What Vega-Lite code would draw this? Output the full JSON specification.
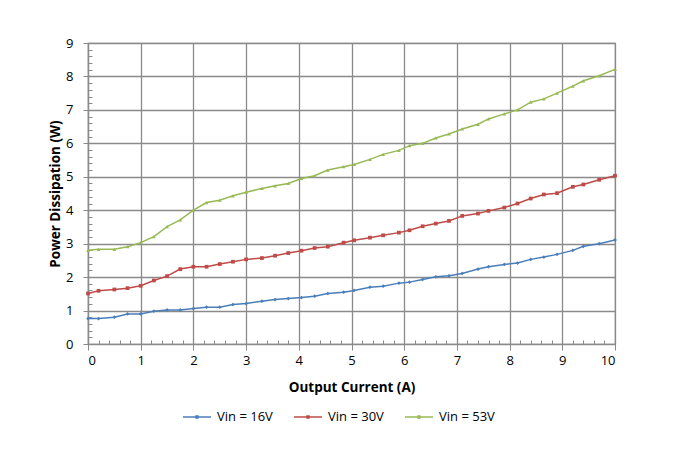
{
  "$schema": "https://vega.github.io/schema/vega-lite/v6.json",
  "width": 527,
  "height": 301,
  "autosize": {"type": "none"},
  "padding": {"left": 88, "top": 43, "right": 59, "bottom": 108},
  "background": "white",
  "config": {
    "font": "Open Sans",
    "view": {"stroke": "#8a8a8a", "strokeWidth": 1.2},
    "axis": {
      "labelFont": "Open Sans", "labelFontSize": 13, "labelColor": "#000000",
      "titleFont": "Open Sans", "titleFontSize": 13.5, "titleFontWeight": "bold", "titleColor": "#000000",
      "domainColor": "#8a8a8a", "domainWidth": 1.2,
      "tickColor": "#8a8a8a", "tickWidth": 1,
      "gridColor": "#8a8a8a", "gridWidth": 1.3
    },
    "legend": {"labelFont": "Open Sans", "labelFontSize": 13, "labelColor": "#000000"}
  },
  "data": {"values": [
    {"I":0,"P":0.76,"s":"Vin = 16V"},{"I":0.2,"P":0.76,"s":"Vin = 16V"},{"I":0.5,"P":0.8,"s":"Vin = 16V"},{"I":0.75,"P":0.9,"s":"Vin = 16V"},{"I":1.0,"P":0.9,"s":"Vin = 16V"},{"I":1.25,"P":0.98,"s":"Vin = 16V"},{"I":1.5,"P":1.02,"s":"Vin = 16V"},{"I":1.75,"P":1.02,"s":"Vin = 16V"},{"I":2.0,"P":1.06,"s":"Vin = 16V"},{"I":2.25,"P":1.1,"s":"Vin = 16V"},{"I":2.5,"P":1.1,"s":"Vin = 16V"},{"I":2.75,"P":1.18,"s":"Vin = 16V"},{"I":3.0,"P":1.21,"s":"Vin = 16V"},{"I":3.3,"P":1.28,"s":"Vin = 16V"},{"I":3.55,"P":1.33,"s":"Vin = 16V"},{"I":3.8,"P":1.36,"s":"Vin = 16V"},{"I":4.05,"P":1.39,"s":"Vin = 16V"},{"I":4.3,"P":1.43,"s":"Vin = 16V"},{"I":4.55,"P":1.51,"s":"Vin = 16V"},{"I":4.85,"P":1.55,"s":"Vin = 16V"},{"I":5.05,"P":1.6,"s":"Vin = 16V"},{"I":5.35,"P":1.7,"s":"Vin = 16V"},{"I":5.6,"P":1.73,"s":"Vin = 16V"},{"I":5.9,"P":1.82,"s":"Vin = 16V"},{"I":6.1,"P":1.85,"s":"Vin = 16V"},{"I":6.35,"P":1.93,"s":"Vin = 16V"},{"I":6.6,"P":2.01,"s":"Vin = 16V"},{"I":6.85,"P":2.04,"s":"Vin = 16V"},{"I":7.1,"P":2.11,"s":"Vin = 16V"},{"I":7.4,"P":2.24,"s":"Vin = 16V"},{"I":7.6,"P":2.31,"s":"Vin = 16V"},{"I":7.9,"P":2.38,"s":"Vin = 16V"},{"I":8.15,"P":2.42,"s":"Vin = 16V"},{"I":8.4,"P":2.53,"s":"Vin = 16V"},{"I":8.65,"P":2.6,"s":"Vin = 16V"},{"I":8.9,"P":2.68,"s":"Vin = 16V"},{"I":9.2,"P":2.8,"s":"Vin = 16V"},{"I":9.4,"P":2.92,"s":"Vin = 16V"},{"I":9.7,"P":3.0,"s":"Vin = 16V"},{"I":10.0,"P":3.11,"s":"Vin = 16V"},
    {"I":0,"P":1.51,"s":"Vin = 30V"},{"I":0.2,"P":1.59,"s":"Vin = 30V"},{"I":0.5,"P":1.63,"s":"Vin = 30V"},{"I":0.75,"P":1.67,"s":"Vin = 30V"},{"I":1.0,"P":1.74,"s":"Vin = 30V"},{"I":1.25,"P":1.9,"s":"Vin = 30V"},{"I":1.5,"P":2.03,"s":"Vin = 30V"},{"I":1.75,"P":2.24,"s":"Vin = 30V"},{"I":2.0,"P":2.31,"s":"Vin = 30V"},{"I":2.25,"P":2.31,"s":"Vin = 30V"},{"I":2.5,"P":2.39,"s":"Vin = 30V"},{"I":2.75,"P":2.46,"s":"Vin = 30V"},{"I":3.0,"P":2.53,"s":"Vin = 30V"},{"I":3.3,"P":2.57,"s":"Vin = 30V"},{"I":3.55,"P":2.64,"s":"Vin = 30V"},{"I":3.8,"P":2.72,"s":"Vin = 30V"},{"I":4.05,"P":2.79,"s":"Vin = 30V"},{"I":4.3,"P":2.87,"s":"Vin = 30V"},{"I":4.55,"P":2.91,"s":"Vin = 30V"},{"I":4.85,"P":3.03,"s":"Vin = 30V"},{"I":5.05,"P":3.1,"s":"Vin = 30V"},{"I":5.35,"P":3.18,"s":"Vin = 30V"},{"I":5.6,"P":3.25,"s":"Vin = 30V"},{"I":5.9,"P":3.33,"s":"Vin = 30V"},{"I":6.1,"P":3.4,"s":"Vin = 30V"},{"I":6.35,"P":3.52,"s":"Vin = 30V"},{"I":6.6,"P":3.6,"s":"Vin = 30V"},{"I":6.85,"P":3.68,"s":"Vin = 30V"},{"I":7.1,"P":3.83,"s":"Vin = 30V"},{"I":7.4,"P":3.9,"s":"Vin = 30V"},{"I":7.6,"P":3.98,"s":"Vin = 30V"},{"I":7.9,"P":4.08,"s":"Vin = 30V"},{"I":8.15,"P":4.2,"s":"Vin = 30V"},{"I":8.4,"P":4.35,"s":"Vin = 30V"},{"I":8.65,"P":4.47,"s":"Vin = 30V"},{"I":8.9,"P":4.51,"s":"Vin = 30V"},{"I":9.2,"P":4.7,"s":"Vin = 30V"},{"I":9.4,"P":4.77,"s":"Vin = 30V"},{"I":9.7,"P":4.91,"s":"Vin = 30V"},{"I":10.0,"P":5.03,"s":"Vin = 30V"},
    {"I":0,"P":2.8,"s":"Vin = 53V"},{"I":0.2,"P":2.83,"s":"Vin = 53V"},{"I":0.5,"P":2.83,"s":"Vin = 53V"},{"I":0.75,"P":2.91,"s":"Vin = 53V"},{"I":1.0,"P":3.03,"s":"Vin = 53V"},{"I":1.25,"P":3.21,"s":"Vin = 53V"},{"I":1.5,"P":3.51,"s":"Vin = 53V"},{"I":1.75,"P":3.71,"s":"Vin = 53V"},{"I":2.0,"P":4.0,"s":"Vin = 53V"},{"I":2.25,"P":4.23,"s":"Vin = 53V"},{"I":2.5,"P":4.3,"s":"Vin = 53V"},{"I":2.75,"P":4.43,"s":"Vin = 53V"},{"I":3.0,"P":4.54,"s":"Vin = 53V"},{"I":3.3,"P":4.65,"s":"Vin = 53V"},{"I":3.55,"P":4.73,"s":"Vin = 53V"},{"I":3.8,"P":4.8,"s":"Vin = 53V"},{"I":4.05,"P":4.95,"s":"Vin = 53V"},{"I":4.3,"P":5.03,"s":"Vin = 53V"},{"I":4.55,"P":5.2,"s":"Vin = 53V"},{"I":4.85,"P":5.3,"s":"Vin = 53V"},{"I":5.05,"P":5.37,"s":"Vin = 53V"},{"I":5.35,"P":5.52,"s":"Vin = 53V"},{"I":5.6,"P":5.67,"s":"Vin = 53V"},{"I":5.9,"P":5.79,"s":"Vin = 53V"},{"I":6.1,"P":5.93,"s":"Vin = 53V"},{"I":6.35,"P":6.0,"s":"Vin = 53V"},{"I":6.6,"P":6.16,"s":"Vin = 53V"},{"I":6.85,"P":6.28,"s":"Vin = 53V"},{"I":7.1,"P":6.43,"s":"Vin = 53V"},{"I":7.4,"P":6.57,"s":"Vin = 53V"},{"I":7.6,"P":6.73,"s":"Vin = 53V"},{"I":7.9,"P":6.88,"s":"Vin = 53V"},{"I":8.15,"P":7.0,"s":"Vin = 53V"},{"I":8.4,"P":7.23,"s":"Vin = 53V"},{"I":8.65,"P":7.33,"s":"Vin = 53V"},{"I":8.9,"P":7.5,"s":"Vin = 53V"},{"I":9.2,"P":7.71,"s":"Vin = 53V"},{"I":9.4,"P":7.87,"s":"Vin = 53V"},{"I":9.7,"P":8.02,"s":"Vin = 53V"},{"I":10.0,"P":8.21,"s":"Vin = 53V"}
  ]},
  "encoding": {
    "x": {"field": "I", "type": "quantitative", "scale": {"domain": [0, 10], "nice": false},
      "axis": {"title": "Output Current (A)", "grid": true,
        "values": [0,0.2,0.4,0.6,0.8,1,1.2,1.4,1.6,1.8,2,2.2,2.4,2.6,2.8,3,3.2,3.4,3.6,3.8,4,4.2,4.4,4.6,4.8,5,5.2,5.4,5.6,5.8,6,6.2,6.4,6.6,6.8,7,7.2,7.4,7.6,7.8,8,8.2,8.4,8.6,8.8,9,9.2,9.4,9.6,9.8,10],
        "labelExpr": "abs(datum.value - round(datum.value)) < 0.01 ? format(datum.value, 'd') : ''",
        "tickSize": {"condition": {"test": "abs(datum.value - round(datum.value)) < 0.01", "value": 6}, "value": -4},
        "gridOpacity": {"condition": {"test": "abs(datum.value - round(datum.value)) < 0.01", "value": 1}, "value": 0},
        "labelPadding": 4, "titlePadding": 13}},
    "y": {"field": "P", "type": "quantitative", "scale": {"domain": [0, 9], "nice": false},
      "axis": {"title": "Power  Dissipation (W)", "grid": true,
        "values": [0,0.2,0.4,0.6,0.8,1,1.2,1.4,1.6,1.8,2,2.2,2.4,2.6,2.8,3,3.2,3.4,3.6,3.8,4,4.2,4.4,4.6,4.8,5,5.2,5.4,5.6,5.8,6,6.2,6.4,6.6,6.8,7,7.2,7.4,7.6,7.8,8,8.2,8.4,8.6,8.8,9],
        "labelExpr": "abs(datum.value - round(datum.value)) < 0.01 ? format(datum.value, 'd') : ''",
        "tickSize": {"condition": {"test": "abs(datum.value - round(datum.value)) < 0.01", "value": 5}, "value": -4},
        "gridOpacity": {"condition": {"test": "abs(datum.value - round(datum.value)) < 0.01", "value": 1}, "value": 0},
        "labelPadding": 10, "titlePadding": 3}},
    "color": {"field": "s", "type": "nominal",
      "scale": {"domain": ["Vin = 16V", "Vin = 30V", "Vin = 53V"], "range": ["#4a7ebb", "#be4b48", "#98b954"]}}
  },
  "layer": [
    {
      "mark": {"type": "line", "strokeWidth": 1.5},
      "encoding": {
        "color": {"field": "s", "type": "nominal",
          "legend": {"title": null, "orient": "none", "legendX": 94, "legendY": 359, "direction": "horizontal", "symbolType": "M-1,0H1M-0.07,-0.07H0.07V0.07H-0.07Z", "symbolSize": 784, "symbolStrokeWidth": 1.5, "columnPadding": 18, "labelOffset": 5, "padding": 0}}
      }
    },
    {
      "mark": {"type": "point", "filled": true, "size": 14, "opacity": 1},
      "encoding": {
        "color": {"field": "s", "type": "nominal", "legend": null},
        "shape": {"field": "s", "type": "nominal", "scale": {"domain": ["Vin = 16V", "Vin = 30V", "Vin = 53V"], "range": ["diamond", "square", "triangle-up"]}, "legend": null}
      }
    }
  ],
  "resolve": {"legend": {"color": "independent"}}
}
